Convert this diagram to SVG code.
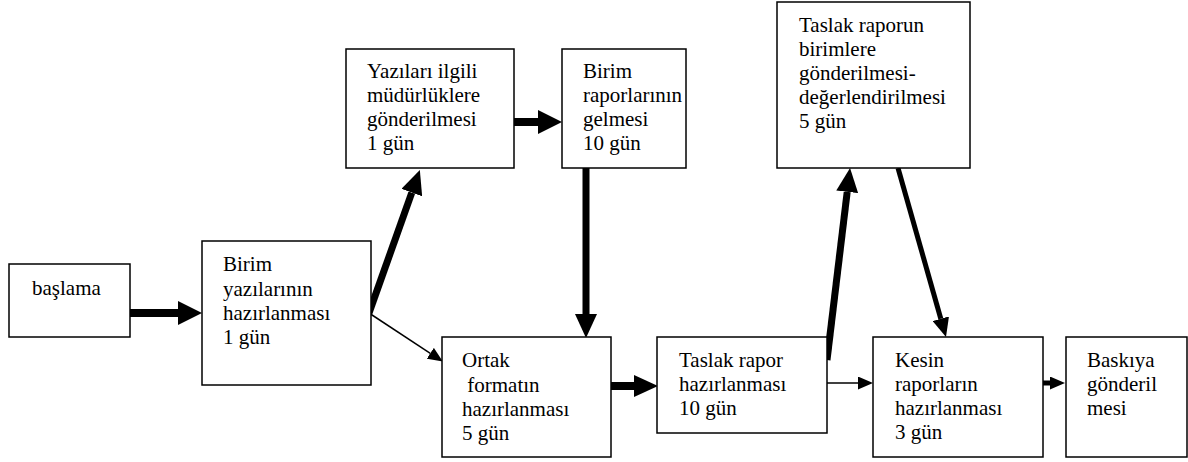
<svg xmlns="http://www.w3.org/2000/svg" width="1188" height="462" viewBox="0 0 1188 462" font-family="'Liberation Serif', 'DejaVu Serif', 'Times New Roman', serif">
  <style>
    .box { fill: #fff; stroke: #000; stroke-width: 1.5; }
    .lbl { font-family: 'Liberation Serif', 'DejaVu Serif', 'Times New Roman', serif; font-size: 21px; fill: #000; }
    .wire { stroke: #000; fill: none; stroke-linecap: butt; }
    .w8 { stroke-width: 8; }
    .w7 { stroke-width: 7; }
    .w5 { stroke-width: 5; }
    .w1 { stroke-width: 1.5; }
  </style>
  <defs>
    <!-- arrowheads sized in user units; base sits on the line end, tip points forward -->
    <marker id="headXL" markerUnits="userSpaceOnUse" markerWidth="24" markerHeight="24" viewBox="0 0 24 24" refX="0" refY="12" orient="auto">
      <path d="M0,0 L24,12 L0,24 Z" fill="#000"/>
    </marker>
    <marker id="headL" markerUnits="userSpaceOnUse" markerWidth="24" markerHeight="22" viewBox="0 0 24 22" refX="0" refY="11" orient="auto">
      <path d="M0,0 L24,11 L0,22 Z" fill="#000"/>
    </marker>
    <marker id="headM" markerUnits="userSpaceOnUse" markerWidth="19" markerHeight="17" viewBox="0 0 19 17" refX="0" refY="8.5" orient="auto">
      <path d="M0,0 L19,8.5 L0,17 Z" fill="#000"/>
    </marker>
    <marker id="headS" markerUnits="userSpaceOnUse" markerWidth="15" markerHeight="13" viewBox="0 0 15 13" refX="0" refY="6.5" orient="auto">
      <path d="M0,0 L15,6.5 L0,13 Z" fill="#000"/>
    </marker>
  </defs>

  <g id="connectors">
    <line class="wire w8" x1="130" y1="313" x2="178" y2="313" marker-end="url(#headXL)"/>
    <line class="wire w7" x1="369" y1="313" x2="411.8" y2="192.6" marker-end="url(#headL)"/>
    <line class="wire w1" x1="369" y1="313" x2="430.3" y2="353.3" marker-end="url(#headS)"/>
    <line class="wire w8" x1="514" y1="122" x2="538" y2="122" marker-end="url(#headXL)"/>
    <line class="wire w7" x1="586" y1="168" x2="586" y2="314" marker-end="url(#headL)"/>
    <line class="wire w8" x1="611" y1="386" x2="634" y2="386" marker-end="url(#headL)"/>
    <line class="wire w7" x1="827" y1="360" x2="847.2" y2="191.8" marker-end="url(#headL)"/>
    <line class="wire w5" x1="898" y1="168" x2="940.8" y2="318.7" marker-end="url(#headM)"/>
    <line class="wire w1" x1="827" y1="383" x2="858" y2="383" marker-end="url(#headS)"/>
    <line class="wire w5" x1="1043" y1="383" x2="1050" y2="383" marker-end="url(#headS)"/>
  </g>

  <g id="baslama">
    <rect class="box" x="9" y="264" width="121" height="73"/>
    <text class="lbl" x="32" y="295">başlama</text>
  </g>

  <g id="birim-yazilari">
    <rect class="box" x="202" y="241" width="169" height="144"/>
    <text class="lbl">
      <tspan x="223" y="271">Birim</tspan>
      <tspan x="223" y="296">yazılarının</tspan>
      <tspan x="223" y="320">hazırlanması</tspan>
      <tspan x="223" y="344">1 gün</tspan>
    </text>
  </g>

  <g id="yazilari-gonderme">
    <rect class="box" x="346" y="49" width="168" height="119"/>
    <text class="lbl">
      <tspan x="367" y="78">Yazıları ilgili</tspan>
      <tspan x="367" y="102">müdürlüklere</tspan>
      <tspan x="367" y="126">gönderilmesi</tspan>
      <tspan x="367" y="150">1 gün</tspan>
    </text>
  </g>

  <g id="birim-raporlari">
    <rect class="box" x="562" y="49" width="124" height="119"/>
    <text class="lbl">
      <tspan x="583" y="78">Birim</tspan>
      <tspan x="583" y="102">raporlarının</tspan>
      <tspan x="583" y="126">gelmesi</tspan>
      <tspan x="583" y="150">10 gün</tspan>
    </text>
  </g>

  <g id="ortak-format">
    <rect class="box" x="442" y="337" width="169" height="120"/>
    <text class="lbl" xml:space="preserve"><tspan x="462" y="367">Ortak</tspan><tspan x="462" y="392"> formatın</tspan><tspan x="462" y="416">hazırlanması</tspan><tspan x="462" y="440">5 gün</tspan></text>
  </g>

  <g id="taslak-rapor">
    <rect class="box" x="657" y="337" width="170" height="96"/>
    <text class="lbl">
      <tspan x="679" y="367">Taslak rapor</tspan>
      <tspan x="679" y="391">hazırlanması</tspan>
      <tspan x="679" y="415">10 gün</tspan>
    </text>
  </g>

  <g id="taslak-degerlendirme">
    <rect class="box" x="777" y="2" width="193" height="166"/>
    <text class="lbl">
      <tspan x="799" y="32">Taslak raporun</tspan>
      <tspan x="799" y="56">birimlere</tspan>
      <tspan x="799" y="80">gönderilmesi-</tspan>
      <tspan x="799" y="104">değerlendirilmesi</tspan>
      <tspan x="799" y="128">5 gün</tspan>
    </text>
  </g>

  <g id="kesin-raporlar">
    <rect class="box" x="873" y="337" width="170" height="120"/>
    <text class="lbl">
      <tspan x="895" y="367">Kesin</tspan>
      <tspan x="895" y="391">raporların</tspan>
      <tspan x="895" y="415">hazırlanması</tspan>
      <tspan x="895" y="439">3 gün</tspan>
    </text>
  </g>

  <g id="baskiya">
    <rect class="box" x="1066" y="337" width="121" height="120"/>
    <text class="lbl">
      <tspan x="1087" y="367">Baskıya</tspan>
      <tspan x="1087" y="391">gönderil</tspan>
      <tspan x="1087" y="415">mesi</tspan>
    </text>
  </g>
</svg>
